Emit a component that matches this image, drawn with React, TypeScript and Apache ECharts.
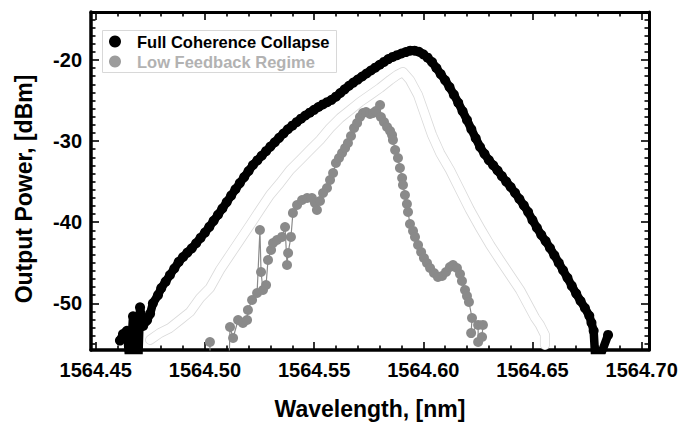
import React, { useEffect, useRef } from "react";
import * as echarts from "echarts";

// ---- Data ----
const blackX = [
  1564.4611, 1564.4625, 1564.4643, 1564.4657, 1564.4671, 1564.468, 1564.4694, 1564.4703, 1564.4717,
  1564.4735, 1564.4749, 1564.4762, 1564.4785,
  1564.48, 1564.482, 1564.484, 1564.486, 1564.488, 1564.49, 1564.492, 1564.494, 1564.496, 1564.498,
  1564.5, 1564.502, 1564.504, 1564.506, 1564.508, 1564.51, 1564.512, 1564.514, 1564.516, 1564.518,
  1564.52, 1564.522, 1564.524, 1564.526, 1564.528, 1564.53, 1564.532, 1564.534, 1564.536, 1564.538,
  1564.54, 1564.542, 1564.544, 1564.546, 1564.548, 1564.55, 1564.552, 1564.554, 1564.556, 1564.558,
  1564.56, 1564.562, 1564.564, 1564.566, 1564.568, 1564.57, 1564.572, 1564.574, 1564.576, 1564.578,
  1564.58, 1564.582, 1564.584, 1564.586, 1564.588, 1564.59, 1564.592, 1564.594, 1564.596, 1564.598,
  1564.6, 1564.602, 1564.604, 1564.606, 1564.608, 1564.61, 1564.612, 1564.614, 1564.616, 1564.618,
  1564.62, 1564.622, 1564.624, 1564.626, 1564.628, 1564.63, 1564.632, 1564.634, 1564.636, 1564.638,
  1564.64, 1564.642, 1564.644, 1564.646, 1564.648, 1564.65, 1564.652, 1564.654, 1564.656, 1564.658,
  1564.66, 1564.662, 1564.664, 1564.666, 1564.668, 1564.67, 1564.672, 1564.674, 1564.676,
  1564.677, 1564.678, 1564.679, 1564.6846,
];
const blackY = [
  -54.6, -53.8, -53.4, -58, -51.6, -53.2, -58, -50.5, -52.8,
  -52.1, -51.3, -50.0, -49.0,
  -48.13, -47.33, -46.51, -45.71, -44.9, -44.29, -43.75, -43.22, -42.6, -41.94,
  -41.29, -40.58, -39.83, -39.08, -38.31, -37.52, -36.73, -35.94, -35.18, -34.44,
  -33.69, -32.95, -32.38, -31.81, -31.24, -30.68, -30.14, -29.6, -29.06, -28.54,
  -28.1, -27.66, -27.23, -26.84, -26.49, -26.14, -25.79, -25.48, -25.2, -24.91,
  -24.52, -24.07, -23.62, -23.17, -22.78, -22.41, -22.03, -21.66, -21.29, -20.94,
  -20.59, -20.24, -19.89, -19.62, -19.4, -19.2, -19.02, -18.85, -18.85, -18.98,
  -19.3, -19.71, -20.26, -20.99, -21.75, -22.5, -23.34, -24.27, -25.27, -26.32,
  -27.4, -28.54, -29.65, -30.73, -31.57, -32.34, -32.98, -33.63, -34.32, -35.0,
  -35.66, -36.38, -37.14, -37.92, -38.75, -39.75, -40.68, -41.56, -42.33, -43.18,
  -44.08, -45.0, -45.93, -46.86, -47.86, -48.8, -49.72, -50.58, -51.55,
  -52.4, -53.4, -58, -53.9,
];

const greyX = [
  1564.5023, 1564.5024, 1564.511, 1564.5115, 1564.5129, 1564.5152, 1564.5174, 1564.5193, 1564.5197,
  1564.5216, 1564.5239, 1564.5252, 1564.5257, 1564.5266, 1564.528, 1564.5289, 1564.5303, 1564.5312,
  1564.533, 1564.5353, 1564.5367, 1564.5376, 1564.5381, 1564.5394, 1564.5403, 1564.5422, 1564.5445,
  1564.5468, 1564.549, 1564.5504, 1564.5513, 1564.5527, 1564.5541, 1564.5559, 1564.5573, 1564.5587,
  1564.56, 1564.5614, 1564.5628, 1564.5642, 1564.5655, 1564.5669, 1564.5683, 1564.5697, 1564.571,
  1564.5724, 1564.5738, 1564.5756, 1564.577, 1564.5783, 1564.5802, 1564.5806, 1564.582, 1564.5834,
  1564.5848, 1564.5857, 1564.5861, 1564.5871, 1564.5884, 1564.5893, 1564.5903, 1564.5907, 1564.5916,
  1564.5925, 1564.593, 1564.5939, 1564.5953, 1564.5962, 1564.5976, 1564.599, 1564.6003, 1564.6017,
  1564.6031, 1564.6049, 1564.6067, 1564.6086, 1564.6104, 1564.6122, 1564.6136, 1564.6154, 1564.6168,
  1564.6177, 1564.6191, 1564.62, 1564.6209, 1564.6223, 1564.6219, 1564.6251, 1564.6251, 1564.6269,
  1564.6273,
];
const greyY = [
  -54.77, -58, -58, -52.92, -54.28, -52.06, -52.43, -52.06, -50.83,
  -49.59, -48.73, -40.96, -46.14, -48.36, -47.74, -44.66, -43.43, -42.56,
  -42.19, -41.82, -40.59, -45.28, -43.8, -41.82, -38.86, -37.88, -37.26,
  -37.02, -37.02, -37.63, -38.5, -37.39, -36.4, -35.78, -34.8, -33.93,
  -32.7, -32.08, -31.47, -30.85, -30.23, -29.37, -28.38, -27.77, -27.03,
  -26.53, -26.41, -26.66, -26.53, -26.29, -25.55, -27.03, -27.64, -28.26,
  -28.75, -29.25, -29.86, -31.1, -32.08, -33.32, -34.55, -35.41, -36.65,
  -37.76, -38.74, -40.22, -41.08, -41.82, -42.81, -43.67, -44.41, -45.03,
  -45.65, -46.26, -46.76, -46.63, -46.14, -45.52, -45.28, -45.65, -46.39,
  -47.25, -48.36, -49.1, -49.84, -51.81, -53.67, -52.67, -54.77, -54.16,
  -52.67,
];

// faint (hollow) trace visible between the two series
const ghostX = [
  1564.4749, 1564.4794, 1564.484, 1564.4886, 1564.4932, 1564.4978, 1564.5023, 1564.5069, 1564.5115,
  1564.5161, 1564.5207, 1564.5252, 1564.5298, 1564.5344, 1564.539, 1564.5436, 1564.5481, 1564.5527,
  1564.5573, 1564.5619, 1564.5665, 1564.571, 1564.5756, 1564.5802, 1564.5848, 1564.588, 1564.5907,
  1564.5939, 1564.5976, 1564.6008, 1564.604, 1564.6077, 1564.6122, 1564.6168, 1564.6214, 1564.626,
  1564.6306, 1564.6351, 1564.6397, 1564.6443, 1564.648, 1564.6512, 1564.6534, 1564.6557, 1564.6557,
];
const ghostY = [
  -54.52, -53.66, -53.04, -52.06, -51.07, -49.35, -48.11, -45.89, -44.04,
  -42.19, -40.34, -38.5, -36.65, -35.17, -33.56, -32.33, -31.1, -29.86,
  -28.38, -27.15, -26.17, -25.18, -24.32, -23.45, -22.47, -21.85, -21.48,
  -22.47, -24.32, -26.78, -29.25, -31.47, -33.56, -36.03, -38.5, -40.71,
  -42.81, -44.66, -46.51, -48.36, -50.21, -51.81, -52.67, -53.91, -55.14,
];

const seriesNames = ["Full Coherence Collapse", "Low Feedback Regime"];
const xMajorTicks = [1564.45, 1564.5, 1564.55, 1564.6, 1564.65, 1564.7];
const yMajorTicks = [-50, -40, -30, -20];
const xRange = [1564.44785, 1564.70334];
const yRange = [-55.76, -14.08];

const FONT = "'Liberation Sans', Arial, Helvetica, sans-serif";

function zip(xs: number[], ys: number[]) {
  return xs.map((x, i) => [x, ys[i]]);
}

export default function App() {
  const ref = useRef<HTMLDivElement>(null);

  useEffect(() => {
    if (!ref.current) return;
    const chart = echarts.init(ref.current, null, { renderer: "svg" });

    const xMinor: number[] = [];
    for (let i = 0; i <= 25; i++) {
      if (i % 5 !== 0) xMinor.push(+(1564.45 + i * 0.01).toFixed(2));
    }
    const yMinor: number[] = [];
    for (let v = -55; v <= -15; v++) {
      if (v % 10 !== 0) yMinor.push(v);
    }

    const axisLineStyle = { color: "#000", width: 3.5 };
    const baseX = {
      type: "value" as const,
      min: xRange[0],
      max: xRange[1],
      splitLine: { show: false },
    };
    const baseY = {
      type: "value" as const,
      min: yRange[0],
      max: yRange[1],
      splitLine: { show: false },
    };
    const majorTick = (vals: number[]) => ({
      show: true,
      inside: true,
      length: 8,
      customValues: vals,
      lineStyle: { color: "#000", width: 1.6 },
    });
    const minorTick = (vals: number[]) => ({
      show: true,
      inside: true,
      length: 4.5,
      customValues: vals,
      lineStyle: { color: "#000", width: 1.6 },
    });

    chart.setOption({
      animation: false,
      backgroundColor: "#fff",
      grid: {
        left: 91,
        right: 31,
        top: 12,
        bottom: 75,
        containLabel: false,
        outerBoundsMode: "none",
      },
      legend: {
        orient: "vertical",
        left: 109,
        top: 33,
        itemWidth: 18,
        itemHeight: 12,
        itemGap: 3,
        icon: "circle",
        selectedMode: false,
        padding: 0,
        textStyle: { fontFamily: FONT, fontWeight: "bold", fontSize: 16.5, padding: [0, 0, 0, 8] },
        data: [
          { name: seriesNames[0], textStyle: { color: "#000" } },
          { name: seriesNames[1], textStyle: { color: "#b2b2b2" }, itemStyle: { color: "#9c9c9c" } },
        ],
      },
      graphic: [
        {
          type: "rect",
          left: 100,
          top: 28,
          shape: { width: 234, height: 42 },
          style: { fill: "none", stroke: "#d8d8d8", lineWidth: 1 },
          silent: true,
          z: 1,
        },
      ],
      xAxis: [
        {
          ...baseX,
          position: "bottom",
          axisLine: { show: true, lineStyle: axisLineStyle },
          axisTick: majorTick(xMajorTicks),
          axisLabel: {
            customValues: xMajorTicks,
            formatter: (v: number) => v.toFixed(2),
            fontFamily: FONT,
            fontWeight: "bold",
            fontSize: 20,
            color: "#000",
            margin: 10,
          },
          name: "Wavelength, [nm]",
          nameLocation: "middle",
          nameGap: 47,
          nameTextStyle: { fontFamily: FONT, fontWeight: "bold", fontSize: 23, color: "#000" },
        },
        {
          ...baseX,
          position: "bottom",
          axisLine: { show: false },
          axisTick: minorTick(xMinor),
          axisLabel: { show: false },
        },
        {
          ...baseX,
          position: "top",
          axisLine: { show: true, lineStyle: { color: "#000", width: 3 } },
          axisTick: majorTick(xMajorTicks),
          axisLabel: { show: false },
        },
        {
          ...baseX,
          position: "top",
          axisLine: { show: false },
          axisTick: minorTick(xMinor),
          axisLabel: { show: false },
        },
      ],
      yAxis: [
        {
          ...baseY,
          position: "left",
          axisLine: { show: true, lineStyle: axisLineStyle },
          axisTick: majorTick(yMajorTicks),
          axisLabel: {
            customValues: yMajorTicks,
            formatter: (v: number) => String(v),
            fontFamily: FONT,
            fontWeight: "bold",
            fontSize: 20,
            color: "#000",
            margin: 9,
          },
          name: "Output Power, [dBm]",
          nameLocation: "middle",
          nameGap: 56,
          nameTextStyle: {
            fontFamily: FONT,
            fontWeight: "bold",
            fontSize: 23,
            color: "#000",
            padding: [0, 16, 0, 0],
          },
        },
        {
          ...baseY,
          position: "left",
          axisLine: { show: false },
          axisTick: minorTick(yMinor),
          axisLabel: { show: false },
        },
        {
          ...baseY,
          position: "right",
          axisLine: { show: true, lineStyle: { color: "#000", width: 3 } },
          axisTick: majorTick(yMajorTicks),
          axisLabel: { show: false },
        },
        {
          ...baseY,
          position: "right",
          axisLine: { show: false },
          axisTick: minorTick(yMinor),
          axisLabel: { show: false },
        },
      ],
      series: [
        {
          name: "ghost-outline",
          type: "line",
          data: zip(ghostX, ghostY),
          symbol: "none",
          silent: true,
          lineStyle: { color: "#dadada", width: 10, cap: "round", join: "round" },
          z: 1,
        },
        {
          name: "ghost-fill",
          type: "line",
          data: zip(ghostX, ghostY),
          symbol: "none",
          silent: true,
          lineStyle: { color: "#ffffff", width: 8.4, cap: "round", join: "round" },
          z: 1,
        },
        {
          name: seriesNames[1],
          type: "line",
          data: zip(greyX, greyY),
          symbol: "circle",
          symbolSize: 10,
          itemStyle: { color: "#8a8a8a" },
          lineStyle: { color: "#8a8a8a", width: 1.2 },
          z: 3,
        },
        {
          name: seriesNames[0],
          type: "line",
          data: zip(blackX, blackY),
          symbol: "circle",
          symbolSize: 10,
          itemStyle: { color: "#000" },
          lineStyle: { color: "#000", width: 8.5, join: "round", cap: "round" },
          z: 4,
        },
      ],
    });

    return () => chart.dispose();
  }, []);

  return (
    <div
      ref={ref}
      style={{ position: "fixed", left: 0, top: 0, width: 680, height: 425, background: "#fff" }}
    />
  );
}
